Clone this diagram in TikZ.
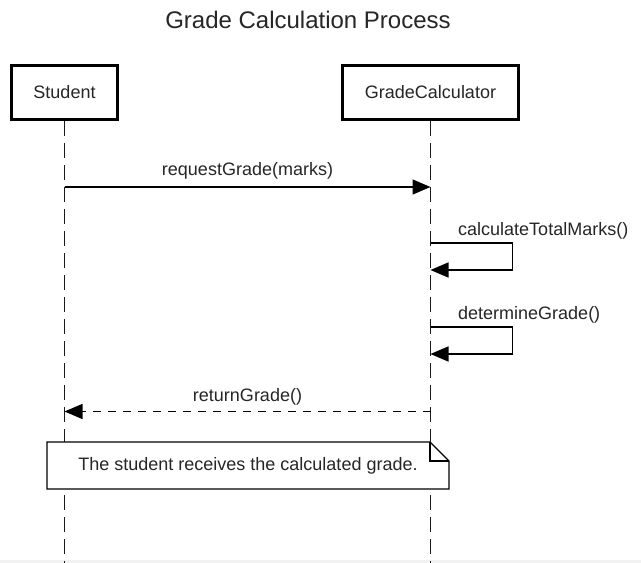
\documentclass[tikz,border=0pt]{standalone}
\usepackage{fontspec}
\setmainfont{Liberation Sans}
\usetikzlibrary{arrows.meta, calc}

\begin{document}
\begin{tikzpicture}[x=1pt, y=-1pt]
    % Define display style
    \tikzstyle{actor}=[draw, line width=2.8pt, inner sep=0pt, minimum height=54pt, font=\fontsize{18}{22}\selectfont, text=black!85]
    \tikzstyle{lifeline}=[line width=1.7pt, dash pattern=on 15pt off 7pt, black!90]
    \tikzstyle{msg}=[line width=1.4pt, -{Triangle[length=18pt, width=15pt]}]
    \tikzstyle{reply}=[msg, dash pattern=on 8pt off 7pt]
    \tikzstyle{msglabel}=[inner sep=0pt, font=\fontsize{18}{22}\selectfont, text=black!85]

    % Define lifeline positions
    \newcommand\StuX{64.5}
    \newcommand\CalX{430.5}
    \newcommand\LifeEnd{563}

    % Page and bottom strip
    \useasboundingbox (0,0) rectangle (641,563);
    \fill[white] (0,0) rectangle (641,563);
    \fill[black!5] (0,560) rectangle (641,563);

    % Title
    \node[font=\fontsize{24}{28}\selectfont, text=black!85] (title) at (308,20) {Grade Calculation Process};

    % Participants
    \node[actor, minimum width=106pt] (student) at (\StuX,92.5) {Student};
    \node[actor, minimum width=176pt] (calc) at (\CalX,92.5) {GradeCalculator};

    % Bottom ends of the lifelines
    \coordinate (studentEnd) at (\StuX,\LifeEnd);
    \coordinate (calcEnd) at (\CalX,\LifeEnd);

    % Draw the lifelines
    \draw[lifeline] (student.south) -- (studentEnd);
    \draw[lifeline] (calc.south) -- (calcEnd);

    % Message points on the lifelines
    \coordinate (reqS) at (\StuX,187);
    \coordinate (reqC) at (\CalX,187);
    \coordinate (totalOut) at (\CalX,243);
    \coordinate (totalIn) at (\CalX,270);
    \coordinate (gradeOut) at (\CalX,327);
    \coordinate (gradeIn) at (\CalX,354);
    \coordinate (retC) at (\CalX,411.5);
    \coordinate (retS) at (\StuX,411.5);

    % Draw the messages
    \draw[msg] (reqS) -- (reqC);
    \node[msglabel] (reqLabel) at ($(reqS)!0.5!(reqC)+(0,-16)$) {requestGrade(marks)};

    \draw[msg] (totalOut) -- ++(82,0) |- (totalIn);
    \node[msglabel, anchor=west] (totalLabel) at (458,231) {calculateTotalMarks()};

    \draw[msg] (gradeOut) -- ++(82,0) |- (gradeIn);
    \node[msglabel, anchor=west] (gradeLabel) at (458,315) {determineGrade()};

    \draw[reply] (retC) -- (retS);
    \node[msglabel] (retLabel) at ($(retS)!0.5!(retC)+(0,-14.5)$) {returnGrade()};

    % Draw the note with its folded corner
    \coordinate (noteNW) at (47,442);
    \coordinate (noteSE) at (449,489);
    \coordinate (foldA) at ($(noteNW -| noteSE)+(-19,0)$);
    \coordinate (foldB) at ($(noteNW -| noteSE)+(0,19)$);
    \draw[line width=1.4pt, fill=white] (noteSE -| noteNW) -- (noteNW) -- (foldA) -- (foldB) -- (noteSE) -- cycle;
    \draw[line width=1.2pt] (foldA) |- (foldB);
    \node[msglabel] (note) at ($(noteNW)!0.5!(noteSE)$) {The student receives the calculated grade.};
\end{tikzpicture}
\end{document}
